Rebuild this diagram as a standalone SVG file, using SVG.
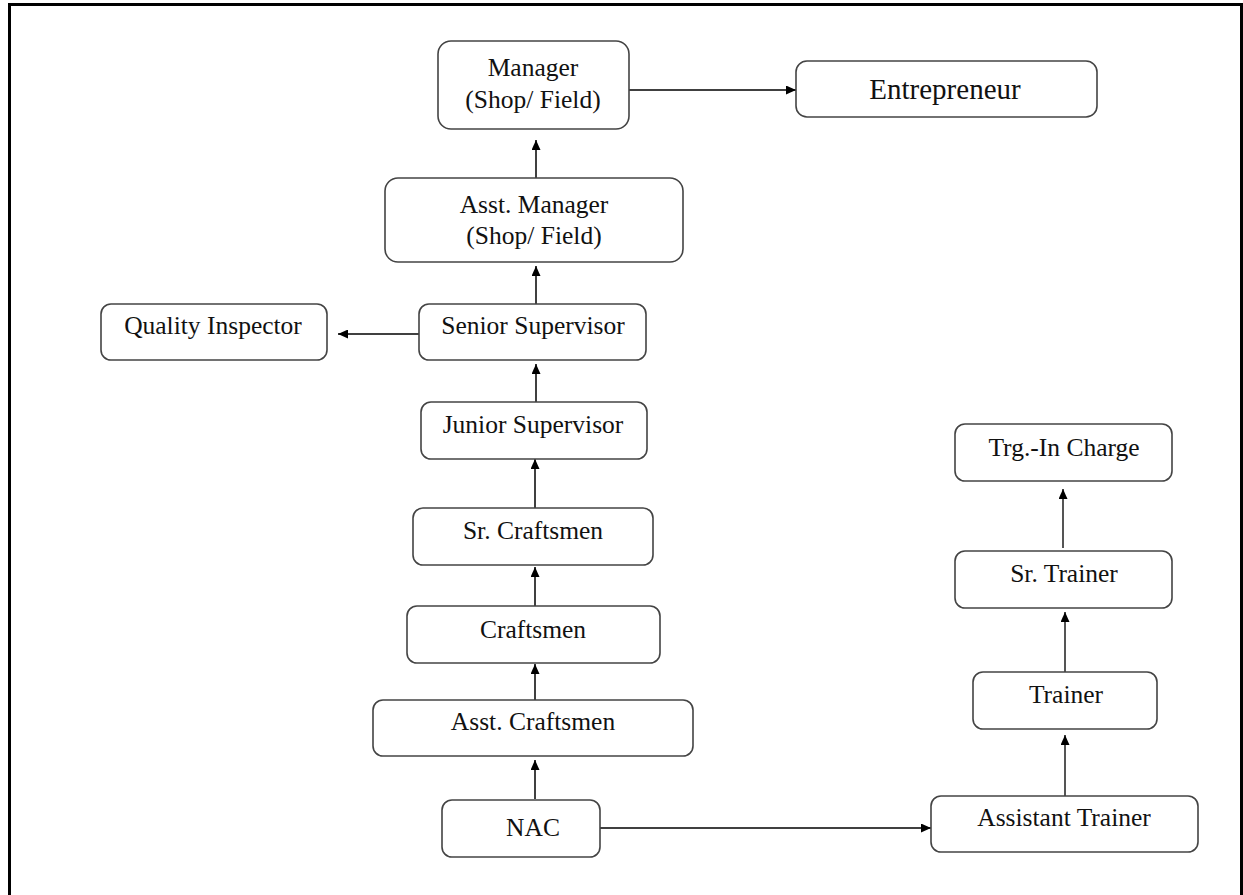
<svg xmlns="http://www.w3.org/2000/svg" width="1243" height="895" viewBox="0 0 1243 895">
<defs>
<marker id="ah" viewBox="0 0 10 10" refX="10" refY="5" markerWidth="10" markerHeight="9" markerUnits="userSpaceOnUse" orient="auto" preserveAspectRatio="none">
<path d="M0,0 L10,5 L0,10 z" fill="#000"/>
</marker>
<style>
.box{fill:#fff;stroke:#444;stroke-width:1.6}
.t{font-family:"Liberation Serif","Times New Roman",serif;font-size:25.5px;fill:#111;text-anchor:middle}
.big{font-size:29px}
.c{stroke:#000;stroke-width:1.5;fill:none;marker-end:url(#ah)}
.cg{stroke:#555;stroke-width:2;fill:none;marker-end:url(#ah)}
</style>
</defs>
<rect x="0" y="0" width="1243" height="895" fill="#fff"/>
<path d="M9.5,906 V4.5 H1241.5 V906" fill="none" stroke="#000" stroke-width="3"/>
<g id="connectors">
<line class="c" x1="629" y1="90" x2="796" y2="90"/>
<line class="c" x1="536" y1="178" x2="536" y2="140"/>
<line class="c" x1="536" y1="304" x2="536" y2="266"/>
<line class="c" x1="419" y1="334" x2="338" y2="334"/>
<line class="c" x1="536" y1="402" x2="536" y2="364"/>
<line class="c" x1="535" y1="508" x2="535" y2="459"/>
<line class="c" x1="535" y1="606" x2="535" y2="567"/>
<line class="c" x1="535" y1="700" x2="535" y2="664"/>
<line class="c" x1="535" y1="799" x2="535" y2="760"/>
<line class="c" x1="600" y1="828" x2="931" y2="828"/>
<line class="cg" x1="1065" y1="796" x2="1065" y2="735"/>
<line class="cg" x1="1065" y1="672" x2="1065" y2="612"/>
<line class="cg" x1="1063" y1="548" x2="1063" y2="489"/>
</g>
<g id="manager"><rect class="box" x="438" y="41" width="191" height="88" rx="13"/><text class="t" x="533" y="76">Manager</text><text class="t" x="533" y="108">(Shop/ Field)</text></g>
<g id="entrepreneur"><rect class="box" x="796" y="61" width="301" height="56" rx="11"/><text class="t big" x="945" y="99">Entrepreneur</text></g>
<g id="asst-manager"><rect class="box" x="385" y="178" width="298" height="84" rx="13"/><text class="t" x="534" y="213">Asst. Manager</text><text class="t" x="534" y="244">(Shop/ Field)</text></g>
<g id="quality-inspector"><rect class="box" x="101" y="304" width="226" height="56" rx="10"/><text class="t" x="213" y="334">Quality Inspector</text></g>
<g id="senior-supervisor"><rect class="box" x="419" y="304" width="227" height="56" rx="10"/><text class="t" x="533" y="334">Senior Supervisor</text></g>
<g id="junior-supervisor"><rect class="box" x="421" y="402" width="226" height="57" rx="10"/><text class="t" x="533" y="433">Junior Supervisor</text></g>
<g id="sr-craftsmen"><rect class="box" x="413" y="508" width="240" height="57" rx="10"/><text class="t" x="533" y="539">Sr. Craftsmen</text></g>
<g id="craftsmen"><rect class="box" x="407" y="606" width="253" height="57" rx="10"/><text class="t" x="533" y="638">Craftsmen</text></g>
<g id="asst-craftsmen"><rect class="box" x="373" y="700" width="320" height="56" rx="10"/><text class="t" x="533" y="730">Asst. Craftsmen</text></g>
<g id="nac"><rect class="box" x="442" y="800" width="158" height="57" rx="10"/><text class="t" x="533" y="836">NAC</text></g>
<g id="assistant-trainer"><rect class="box" x="931" y="796" width="267" height="56" rx="10"/><text class="t" x="1064" y="826">Assistant Trainer</text></g>
<g id="trainer"><rect class="box" x="973" y="672" width="184" height="57" rx="10"/><text class="t" x="1066" y="703">Trainer</text></g>
<g id="sr-trainer"><rect class="box" x="955" y="551" width="217" height="57" rx="10"/><text class="t" x="1064" y="582">Sr. Trainer</text></g>
<g id="trg-in-charge"><rect class="box" x="955" y="424" width="217" height="57" rx="10"/><text class="t" x="1064" y="456">Trg.-In Charge</text></g>
</svg>
